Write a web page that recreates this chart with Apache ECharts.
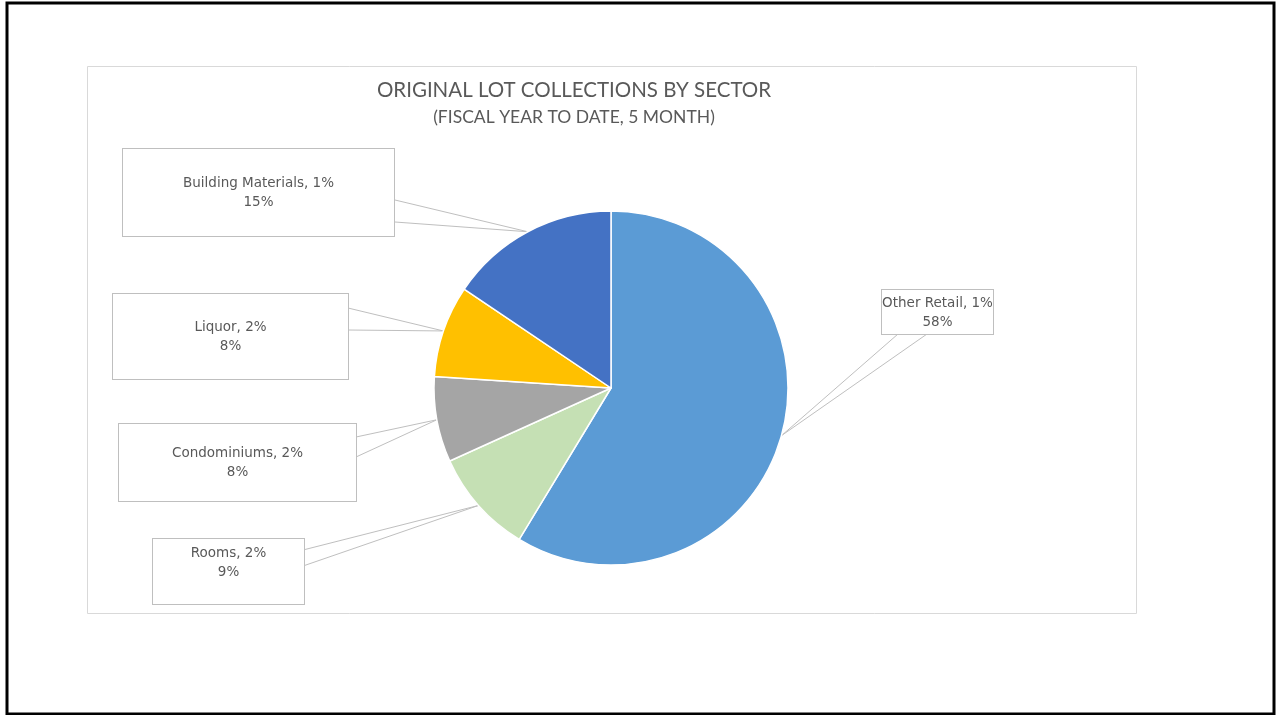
<!DOCTYPE html>
<html>
<head>
<meta charset="utf-8">
<script src="https://cdn.jsdelivr.net/npm/echarts@6/dist/echarts.min.js"></script>
<style>
html,body{margin:0;padding:0;background:#fff;}
#main{width:1276px;height:715px;}
</style>
</head>
<body>
<div id="main"></div>
<script>
// ---- data ----
const categories = ['Other Retail, 1%', 'Rooms, 2%', 'Condominiums, 2%', 'Liquor, 2%', 'Building Materials, 1%'];
const values = [58.0, 9.45, 7.7, 8.3, 15.4];
const colors = ['#5B9BD5', '#C5E0B4', '#A5A5A5', '#FFC000', '#4472C4'];

// ---- callout box layout (positions only) ----
const callouts = [
  {x: 882, y: 290, w: 111, h: 44, pt: 3.5, a: [898, 334], b: [927, 334]},
  {x: 153, y: 539, w: 151, h: 65, pt: 4.5, a: [303, 550], b: [303, 566]},
  {x: 119, y: 424, w: 237, h: 77, pt: 19.5, a: [356, 437], b: [356, 457]},
  {x: 113, y: 294, w: 235, h: 85, pt: 23.5, a: [348, 308], b: [348, 330]},
  {x: 123, y: 149, w: 271, h: 87, pt: 25, a: [395, 200], b: [395, 222]}
];
const LH = 19;

const chart = echarts.init(document.getElementById('main'), null, {renderer: 'canvas'});

const data = categories.map((name, i) => {
  const c = callouts[i];
  return {
    name: name,
    value: values[i],
    itemStyle: {color: colors[i]},
    label: {
      width: c.w,
      padding: [c.pt, 0, c.h - c.pt - 2 * LH, 0]
    }
  };
});

const option = {
  backgroundColor: '#ffffff',
  animation: false,
  title: {
    text: 'ORIGINAL LOT COLLECTIONS BY SECTOR',
    subtext: '(FISCAL YEAR TO DATE, 5 MONTH)',
    left: 569,
    top: 75,
    textAlign: 'center',
    itemGap: 7,
    textStyle: {fontFamily: 'Lato', fontSize: 20.5, fontWeight: 'normal', color: '#595959'},
    subtextStyle: {fontFamily: 'Lato', fontSize: 17.5, color: '#595959'}
  },
  graphic: [
    {type: 'rect', z: -10, shape: {x: 87.5, y: 66.5, width: 1049, height: 547}, style: {fill: '#fff', stroke: '#d9d9d9', lineWidth: 1}},
    {type: 'rect', z: 100, shape: {x: 7, y: 3, width: 1267, height: 711}, style: {fill: null, stroke: '#000', lineWidth: 3}}
  ],
  series: [{
    type: 'pie',
    center: [611, 388],
    radius: 177,
    startAngle: 90,
    clockwise: true,
    avoidLabelOverlap: false,
    itemStyle: {borderColor: '#fff', borderWidth: 1.5},
    label: {
      show: true,
      position: 'outside',
      formatter: function (p) { return p.name + '\n' + Math.round(p.value) + '%'; },
      fontFamily: 'DejaVu Sans',
      fontSize: 13.5,
      lineHeight: LH,
      overflow: 'none',
      color: '#595959',
      backgroundColor: '#fff',
      borderColor: '#bfbfbf',
      borderWidth: 1,
      align: 'center'
    },
    labelLine: {show: true, lineStyle: {color: '#bfbfbf', width: 1}},
    labelLayout: function (params) {
      const c = callouts[params.dataIndex];
      const tip = params.labelLinePoints ? params.labelLinePoints[0] : null;
      const res = {x: c.x + c.w / 2, y: c.y, align: 'center', verticalAlign: 'top'};
      if (tip) res.labelLinePoints = [c.a, tip, c.b];
      return res;
    },
    emphasis: {disabled: true},
    data: data
  }]
};
chart.setOption(option);
</script>
</body>
</html>
